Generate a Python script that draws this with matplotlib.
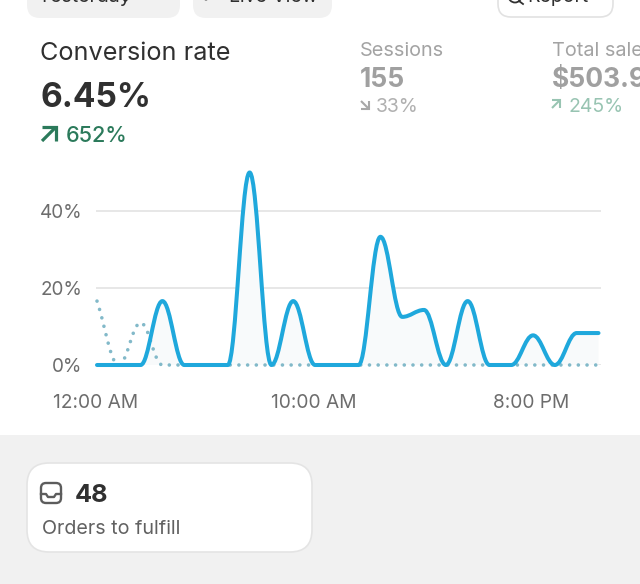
import numpy as np
import matplotlib
matplotlib.use('Agg')
import matplotlib.pyplot as plt
from matplotlib.path import Path
from matplotlib.patches import PathPatch, FancyBboxPatch, Rectangle
from matplotlib.transforms import ScaledTranslation

plt.rcParams['font.family'] = ['Inter', 'DejaVu Sans']

hours = list(range(24))
current_rate = [0, 0, 0, 16.6, 0, 0, 0, 50, 0, 16.6, 0, 0, 0, 33.3, 12.5, 14.3, 0, 16.6, 0, 0, 7.7, 0, 8.3, 8.3]
previous_rate = [16.6, 0, 11, 0, 0, 0, 0, 0, 0, 0, 0, 0, 0, 0, 0, 0, 0, 0, 0, 0, 0, 0, 0, 0]
y_ticks = [0, 20, 40]
y_labels = ['0%', '20%', '40%']
x_ticks = [0, 10, 20]
x_labels = ['12:00 AM', '10:00 AM', '8:00 PM']


def monotone_path(xs, ys, close_base=False):
	# same curve as a monotone-x line in the dashboard, as bezier segments
	xs = np.asarray(xs, float); ys = np.asarray(ys, float)
	h = np.diff(xs); s = np.diff(ys) / h
	t = np.zeros(len(xs))
	for i in range(1, len(xs) - 1):
		if s[i-1] * s[i] > 0:
			t[i] = 2 * s[i-1] * s[i] / (s[i-1] + s[i])
	t[0] = s[0]; t[-1] = s[-1]
	verts = [(xs[0], ys[0])]; codes = [Path.MOVETO]
	for i in range(len(xs) - 1):
		verts += [(xs[i] + h[i]*0.38, ys[i] + t[i]*h[i]*0.38), (xs[i+1] - h[i]*0.38, ys[i+1] - t[i+1]*h[i]*0.38), (xs[i+1], ys[i+1])]
		codes += [Path.CURVE4] * 3
	if close_base:
		verts += [(xs[-1], 0), (xs[0], 0), (xs[0], ys[0])]
		codes += [Path.LINETO, Path.LINETO, Path.CLOSEPOLY]
	return Path(verts, codes)


def arrow(a, x0, y0, size, color, lw, down=False):
	# little trend arrow, x0/y0 is the top left in pixels
	x1 = x0 + size; y1 = y0 + size
	if down:
		a.plot([x0+1, x1-1], [y0+1, y1-1], color=color, lw=lw, solid_capstyle='butt')
		a.plot([x0+1, x1, x1], [y1, y1, y0+1], color=color, lw=lw, solid_joinstyle='miter', solid_capstyle='butt')
	else:
		a.plot([x0+1, x1-1], [y1-1, y0+1], color=color, lw=lw, solid_capstyle='butt')
		a.plot([x0+1, x1, x1], [y0, y0, y1-1], color=color, lw=lw, solid_joinstyle='miter', solid_capstyle='butt')


W, H = 640, 584
fig = plt.figure(figsize=(W/100, H/100), dpi=100, facecolor='white')

# page furniture in pixel coordinates
bg = fig.add_axes([0, 0, 1, 1])
bg.set_xlim(0, W); bg.set_ylim(H, 0); bg.axis('off')

bg.add_patch(Rectangle((0, 435), W, H-435, fc='#f1f1f1', ec='none'))
bg.add_patch(FancyBboxPatch((27, 463), 285, 89, boxstyle='round,pad=0,rounding_size=22', fc='white', ec='#e4e4e4', lw=1.2))
bg.add_patch(FancyBboxPatch((27, -30), 153, 48, boxstyle='round,pad=0,rounding_size=13', fc='#f1f1f1', ec='none'))
bg.add_patch(FancyBboxPatch((193, -30), 139, 48, boxstyle='round,pad=0,rounding_size=13', fc='#f1f1f1', ec='none'))
bg.add_patch(FancyBboxPatch((498, -30), 115, 47, boxstyle='round,pad=0,rounding_size=13', fc='white', ec='#e2e2e2', lw=1.2))

top_kw = dict(fontsize=14, color='#303030', va='baseline')
bg.text(37, 1.5, 'Yesterday', **top_kw)
bg.plot([122, 125.5, 129], [-2, 1, -2], color='#303030', lw=1.2)
bg.text(229, 1.5, 'Live View', **top_kw)
bg.add_patch(plt.Circle((206, -2), 2.5, fc='#303030', ec='none'))
bg.text(527, 1.5, 'Report', **top_kw)
bg.add_patch(plt.Circle((515, -4), 6.5, fc='none', ec='#303030', lw=1.3))
bg.plot([519, 523], [1, 4], color='#303030', lw=1.3)

bg.text(40, 54, 'Conversion rate', fontsize=18.2, color='#303030', va='center', ha='left')
bg.text(40, 98, '6.45%', fontsize=24.2, fontweight='bold', color='#303030', va='center', ha='left')
arrow(bg, 41, 127, 15, '#2b7a5b', 2.3)
bg.text(66, 136, '652%', fontsize=15.6, fontweight='medium', color='#2b7a5b', va='center', ha='left')

bg.text(360, 51, 'Sessions', fontsize=14.3, color='#a3a3a3', va='center', ha='left')
bg.text(360, 80, '155', fontsize=19, fontweight='bold', color='#a0a0a0', va='center', ha='left')
arrow(bg, 360, 100, 9, '#a8a8a8', 1.5, down=True)
bg.text(376, 107, '33%', fontsize=14, color='#b0b0b0', va='center', ha='left')

bg.text(552, 51, 'Total sale', fontsize=14.3, color='#a3a3a3', va='center', ha='left')
bg.text(552, 80, '$503.9', fontsize=19, fontweight='bold', color='#a0a0a0', va='center', ha='left')
arrow(bg, 551, 100, 9, '#98c4b2', 1.5)
bg.text(568, 107, '245%', fontsize=14, color='#98c4b2', va='center', ha='left')

# inbox icon + card text
bg.add_patch(FancyBboxPatch((41, 483), 20, 20, boxstyle='round,pad=0,rounding_size=5', fc='none', ec='#5c5c5c', lw=1.7))
bg.plot([41, 46, 48, 54, 56, 61], [494, 494, 497, 497, 494, 494], color='#5c5c5c', lw=1.7)
bg.text(75, 496, '48', fontsize=18.2, fontweight='bold', color='#303030', va='center', ha='left')
bg.text(42, 529, 'Orders to fulfill', fontsize=14.2, color='#616161', va='center', ha='left')

# chart, 0% at y=365, 3.85 px per percent, 21.8 px per hour starting at x=97
top_px = 160
ax = fig.add_axes([96/W, 1 - 365/H, (601-96)/W, (365-top_px)/H])
ax.patch.set_alpha(0)
ax.set_xlim(-1/21.8, 23 + 2.5/21.8)
ax.set_ylim(0, (365-top_px)/3.85)
for sp in ax.spines.values():
	sp.set_visible(False)
ax.set_yticks(y_ticks); ax.set_yticklabels(y_labels)
ax.set_xticks(x_ticks); ax.set_xticklabels(x_labels)
ax.tick_params(axis='y', length=0, labelsize=13.6, labelcolor='#6d6d6d', pad=10)
ax.tick_params(axis='x', length=0, labelsize=13.8, labelcolor='#6d6d6d', pad=21)
for lab in ax.get_xticklabels():
	lab.set_transform(lab.get_transform() + ScaledTranslation(-1.5/100, 0, fig.dpi_scale_trans))
ax.grid(axis='y', color='#e3e3e3', lw=1.2, zorder=0)
ax.set_axisbelow(True)

ax.add_patch(PathPatch(monotone_path(hours, current_rate, close_base=True), fc='#f8fafb', ec='none', zorder=1))
ax.add_patch(PathPatch(monotone_path(hours, previous_rate), fc='none', ec='#82b9c9', lw=2.6, ls=(0, (0.01, 2.4)), capstyle='round', zorder=2, clip_on=False))
ax.add_patch(PathPatch(monotone_path(hours, current_rate), fc='none', ec='#1fa8dc', lw=2.9, capstyle='round', joinstyle='round', zorder=3, clip_on=False))

plt.savefig('out.png', dpi=100)
